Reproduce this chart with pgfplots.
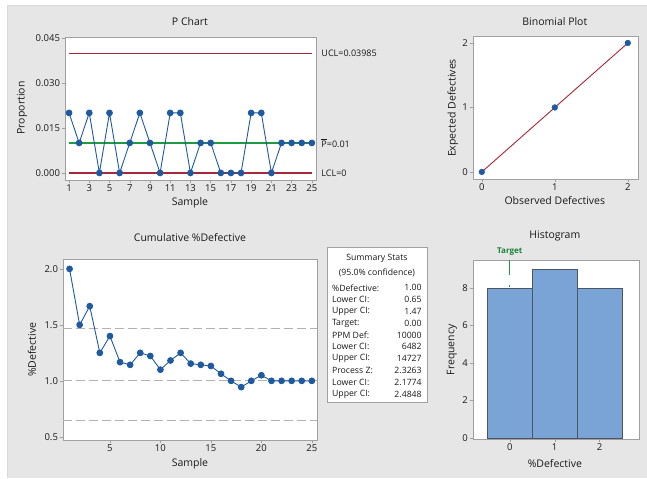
\documentclass[border=0pt]{standalone}
\usepackage{fontspec}
\setmainfont{Open Sans}
\usepackage{pgfplots}
\pgfplotsset{compat=1.18}
\definecolor{bg}{HTML}{E6E6E6}
\definecolor{mblue}{HTML}{1F5AA0}
\definecolor{mred}{HTML}{A8283A}
\definecolor{mgreen}{HTML}{1E9A40}
\definecolor{frm}{HTML}{A0A0A0}
\definecolor{barfill}{HTML}{7BA4D6}
\definecolor{baredge}{HTML}{4B5563}
\definecolor{txt}{HTML}{1A1A1A}
\pgfplotsset{mstyle/.style={scale only axis, anchor=south west,
  axis line style={frm}, tick style={frm, thin}, tick align=outside,
  major tick length=3pt, xtick pos=lower, ytick pos=left,
  tick label style={font=\fontsize{9.5}{11}\selectfont, text=txt},
  /pgf/number format/assume math mode=true, clip=false,
  axis background/.style={fill=white},
  xticklabel style={yshift=1.5pt}, yticklabel style={xshift=1.5pt}}}
\newcommand{\lab}{\fontsize{10.5}{12}\selectfont}
\newcommand{\rl}{\fontsize{9}{10}\selectfont}
\newcommand{\sm}{\fontsize{8.7}{9.5}\selectfont}
\begin{document}
\begin{tikzpicture}[x=1pt,y=1pt]
\fill[white] (0,0) rectangle (647,478);
\fill[bg] (7,0) rectangle (647,473);
\draw[white!85!black, line width=0.4pt] (7,0) -- (7,473) -- (647,473);
% P chart
\begin{axis}[mstyle, at={(65pt,298pt)}, width=251pt, height=143pt,
  xmin=0.6, xmax=25.4, ymin=-0.00233, ymax=0.0453,
  xtick={1,3,...,25}, ytick={0,0.015,0.030,0.045},
  scaled y ticks=false,
  yticklabel style={/pgf/number format/.cd, fixed, fixed zerofill, precision=3}]
\addplot[color=mred, line width=1.4pt] coordinates {(1,0) (25,0)};
\addplot[color=mgreen, line width=1.3pt] coordinates {(1,0.01) (25,0.01)};
\addplot[draw=mred, color=mred, solid, line width=1.4pt, mark=none] table[row sep=\\] {x y\\ 1 0.03985\\ 25 0.03985\\};
\addplot[color=mblue, line width=0.9pt, mark=*, mark size=2.9pt, mark options={fill=mblue}] coordinates {
(1,0.02) (2,0.01) (3,0.02) (4,0) (5,0.02) (6,0) (7,0.01) (8,0.02) (9,0.01) (10,0)
(11,0.02) (12,0.02) (13,0) (14,0.01) (15,0.01) (16,0) (17,0) (18,0) (19,0.02) (20,0.02)
(21,0) (22,0.01) (23,0.01) (24,0.01) (25,0.01)};
\node[anchor=west, font=\rl, text=txt] at (axis cs:25.6,0.03985) {UCL=0.03985};
\node[anchor=west, font=\rl, text=txt] at (axis cs:25.6,0.01) {$\overline{\mbox{P}}$=0.01};
\node[anchor=west, font=\rl, text=txt] at (axis cs:25.6,0) {LCL=0};
\end{axis}
% Binomial
\begin{axis}[mstyle, at={(473pt,299pt)}, width=165pt, height=143pt,
  xmin=-0.123, xmax=2.137, ymin=-0.109, ymax=2.109,
  xtick={0,1,2}, ytick={0,1,2}]
\addplot[color=mred, line width=0.9pt] coordinates {(0,0) (2,2)};
\addplot[only marks, color=mblue, mark=*, mark size=2.9pt, mark options={fill=mblue}] coordinates {(0,0) (1,1) (2,2)};
\end{axis}
% Cumulative
\begin{axis}[mstyle, at={(63pt,38pt)}, width=254pt, height=181pt,
  xmin=0.35, xmax=25.5, ymin=0.473, ymax=2.089,
  xtick={5,10,...,25}, ytick={0.5,1.0,1.5,2.0},
  yticklabel style={/pgf/number format/.cd, fixed, fixed zerofill, precision=1}]
\addplot[color=gray!60, line width=1pt, dash pattern=on 9pt off 4pt] coordinates {(0.35,1.47) (25.5,1.47)};
\addplot[color=gray!60, line width=1pt, dash pattern=on 9pt off 4pt] coordinates {(0.35,1.00) (25.5,1.00)};
\addplot[color=gray!60, line width=1pt, dash pattern=on 9pt off 4pt] coordinates {(0.35,0.65) (25.5,0.65)};
\addplot[color=mblue, line width=0.9pt, mark=*, mark size=2.9pt, mark options={fill=mblue}] coordinates {
(1,2.0) (2,1.5) (3,1.667) (4,1.25) (5,1.4) (6,1.167) (7,1.143) (8,1.25) (9,1.222) (10,1.1)
(11,1.182) (12,1.25) (13,1.154) (14,1.143) (15,1.133) (16,1.063) (17,1.0) (18,0.944) (19,1.0) (20,1.05)
(21,1.0) (22,1.0) (23,1.0) (24,1.0) (25,1.0)};
\end{axis}
% Histogram
\begin{axis}[mstyle, at={(473pt,39pt)}, width=166pt, height=179pt,
  xmin=-0.82, xmax=2.87, ymin=-0.05, ymax=9.5,
  xtick={0,1,2}, ytick={0,2,4,6,8}]
\addplot[ybar interval, fill=barfill, draw=baredge, thick] coordinates {(-0.5,8) (0.5,9) (1.5,8) (2.5,8)};
\addplot[draw=mgreen, color=mgreen, solid, line width=1.4pt, mark=none] table[row sep=\\] {x y\\ 0 8.05\\ 0 8.16\\};
\addplot[draw=mgreen, color=mgreen, solid, line width=1.4pt, mark=none] table[row sep=\\] {x y\\ 0 8.69\\ 0 9.48\\};
\node[font=\fontsize{8}{9}\selectfont\bfseries, text=mgreen!85!black] at (axis cs:0,9.95) {Target};
\end{axis}
% Summary box
\draw[frm, fill=white] (327,76) rectangle (427,231);
\node[font=\sm, text=txt] at (377,220) {Summary Stats};
\node[font=\sm, text=txt] at (377,205) {(95.0\% confidence)};
\foreach \l/\v [count=\i from 0] in {\%Defective:/1.00, Lower CI:/0.65, Upper CI:/1.47, Target:/0.00, PPM Def:/10000, Lower CI:/6482, Upper CI:/14727, Process Z:/2.3263, Lower CI:/2.1774, Upper CI:/2.4848}{
  \node[font=\sm, text=txt, anchor=west, inner xsep=0pt] at (332,190-11.8*\i) {\l};
  \node[font=\sm, text=txt, anchor=east, inner xsep=0pt] at (422,190-11.8*\i) {\v};
}
% Titles and labels
\node[font=\lab, text=txt] at (190,456) {P Chart};
\node[font=\lab, text=txt] at (555,456) {Binomial Plot};
\node[font=\lab, text=txt] at (190,240) {Cumulative \%Defective};
\node[font=\lab, text=txt] at (555,242) {Histogram};
\node[font=\lab, text=txt] at (190,275) {Sample};
\node[font=\lab, text=txt] at (555,277) {Observed Defectives};
\node[font=\lab, text=txt] at (190,14) {Sample};
\node[font=\lab, text=txt] at (555,14) {\%Defective};
\node[font=\lab, text=txt, rotate=90] at (22,370) {Proportion};
\node[font=\lab, text=txt, rotate=90] at (453,370) {Expected Defectives};
\node[font=\lab, text=txt, rotate=90] at (32,128) {\%Defective};
\node[font=\lab, text=txt, rotate=90] at (452,128) {Frequency};
\end{tikzpicture}
\end{document}
